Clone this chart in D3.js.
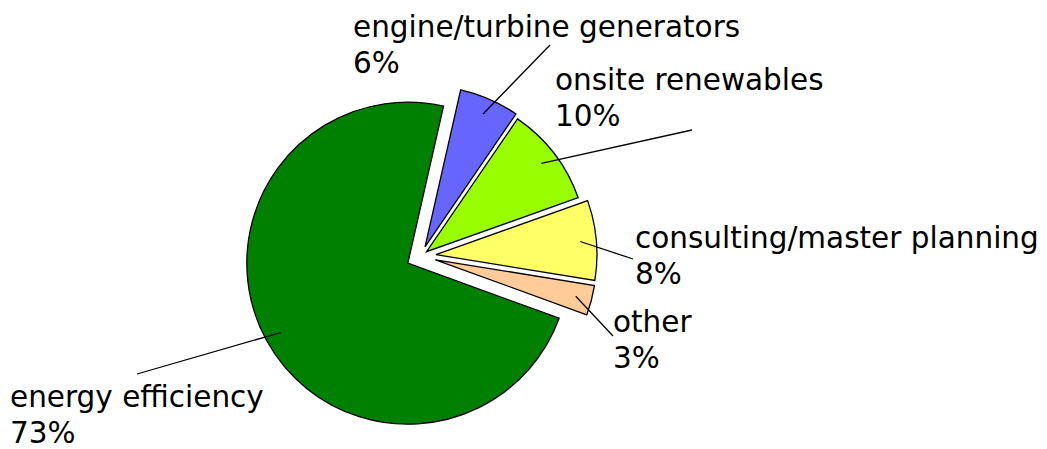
<!DOCTYPE html>
<html lang="en">
<head>
<meta charset="utf-8">
<title>pie</title>
<script src="https://cdn.jsdelivr.net/npm/d3@7"></script>
<style>
body { margin: 0; background: #fff; }
.lbl { font-family: "DejaVu Sans", sans-serif; font-size: 29.5px; fill: #000; }
</style>
</head>
<body>
<script>
// data
var categories = ["engine/turbine generators", "onsite renewables", "consulting/master planning", "other", "energy efficiency"];
var values = [6, 10, 8, 3, 73];
var pctLabels = ["6%", "10%", "8%", "3%", "73%"];

var colors = ["#6666ff", "#99ff00", "#ffff66", "#ffcc99", "#008000"];
var explode = [10, 7, 15, 15, 15];
// label text anchor and leader line end
var labelAt = [[353, 37], [555, 90], [635, 248], [613, 332], [10, 407]];
var leaderEnd = [[550, 45], [692, 130], [633, 259], [613, 336], [137, 374]];

var w = 1047, h = 449;
var cx = 421, cy = 256, R = 161;
var lineGap = 36;

var svg = d3.select("body").append("svg")
  .attr("width", w)
  .attr("height", h);

var start = 12.8 * Math.PI / 180;
var pie = d3.pie().sort(null).startAngle(start).endAngle(start + 2 * Math.PI);
var arcs = pie(values);

var arc = d3.arc().innerRadius(0).outerRadius(R);

function offset(d, i) {
  var a = (d.startAngle + d.endAngle) / 2;
  return [cx + explode[i] * Math.sin(a), cy - explode[i] * Math.cos(a)];
}

var g = svg.append("g");

g.selectAll("path")
  .data(arcs)
  .enter()
  .append("path")
  .attr("d", arc)
  .attr("transform", function(d, i) { var o = offset(d, i); return "translate(" + o[0] + "," + o[1] + ")"; })
  .attr("fill", function(d, i) { return colors[i]; })
  .attr("stroke", "#000")
  .attr("stroke-width", 1.3)
  .attr("stroke-linejoin", "miter");

// leader lines
svg.selectAll("line.leader")
  .data(arcs)
  .enter()
  .append("line")
  .attr("class", "leader")
  .attr("x1", function(d, i) { var o = offset(d, i), a = (d.startAngle + d.endAngle) / 2; return o[0] + 0.9 * R * Math.sin(a); })
  .attr("y1", function(d, i) { var o = offset(d, i), a = (d.startAngle + d.endAngle) / 2; return o[1] - 0.9 * R * Math.cos(a); })
  .attr("x2", function(d, i) { return leaderEnd[i][0]; })
  .attr("y2", function(d, i) { return leaderEnd[i][1]; })
  .attr("stroke", "#000")
  .attr("stroke-width", 1.3);

var t = svg.selectAll("text.lbl")
  .data(categories)
  .enter()
  .append("text")
  .attr("class", "lbl")
  .attr("x", function(d, i) { return labelAt[i][0]; })
  .attr("y", function(d, i) { return labelAt[i][1]; });

t.append("tspan")
  .text(function(d) { return d; });
t.append("tspan")
  .attr("x", function(d, i) { return labelAt[i][0]; })
  .attr("dy", lineGap)
  .text(function(d, i) { return pctLabels[i]; });
</script>
</body>
</html>
